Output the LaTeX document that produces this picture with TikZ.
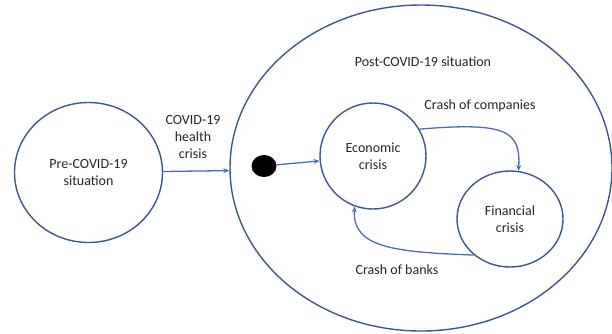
\documentclass[tikz,border=0pt]{standalone}
\usepackage{fontspec}
\setmainfont{Carlito}
\usetikzlibrary{shapes.geometric,arrows.meta}
\definecolor{circ}{HTML}{3A5896}
\definecolor{arr}{HTML}{4A6FB5}
\definecolor{txt}{HTML}{262626}
\begin{document}
\begin{tikzpicture}[x=1pt,y=-1pt,
  state/.style={ellipse,draw=circ,line width=1.4pt,inner sep=0pt,fill=white},
  lbl/.style={text=txt,font=\fontsize{14}{17}\selectfont,align=center},
  conn/.style={draw=arr,line width=1.3pt,-{Stealth[length=6pt,width=5pt]}}]
\useasboundingbox (0,0) rectangle (612,333);
\fill[white] (0,0) rectangle (612,333);
\node[state,minimum width=382,minimum height=326] (post) at (421,168) {};
\node[state,minimum width=148,minimum height=140,lbl] (pre) at (88.5,172.5) {Pre-COVID-19\\situation};
\node[state,minimum width=106,minimum height=106,lbl] (eco) at (373,156) {Economic\\crisis};
\node[state,minimum width=106,minimum height=96,lbl] (fin) at (510,219) {Financial\\crisis};
\node[fill=black,minimum width=25,minimum height=22,inner sep=0pt,ellipse] (dot) at (264,166) {};
\node[lbl] (plbl) at (423,62) {Post-COVID-19 situation};
\node[lbl] (hlbl) at (193,137) {COVID-19\\health\\crisis};
\node[lbl] (clbl) at (480,106) {Crash of companies};
\node[lbl] (blbl) at (397,270) {Crash of banks};
\draw[conn] (pre) -- (post);
\draw[conn] (dot) -- (eco);
\draw[conn] (eco.30) .. controls (505,122) and (521,130) .. (fin.80);
\draw[conn] (fin.225) .. controls (395,252) and (352,248) .. (eco.250);
\end{tikzpicture}
\end{document}
